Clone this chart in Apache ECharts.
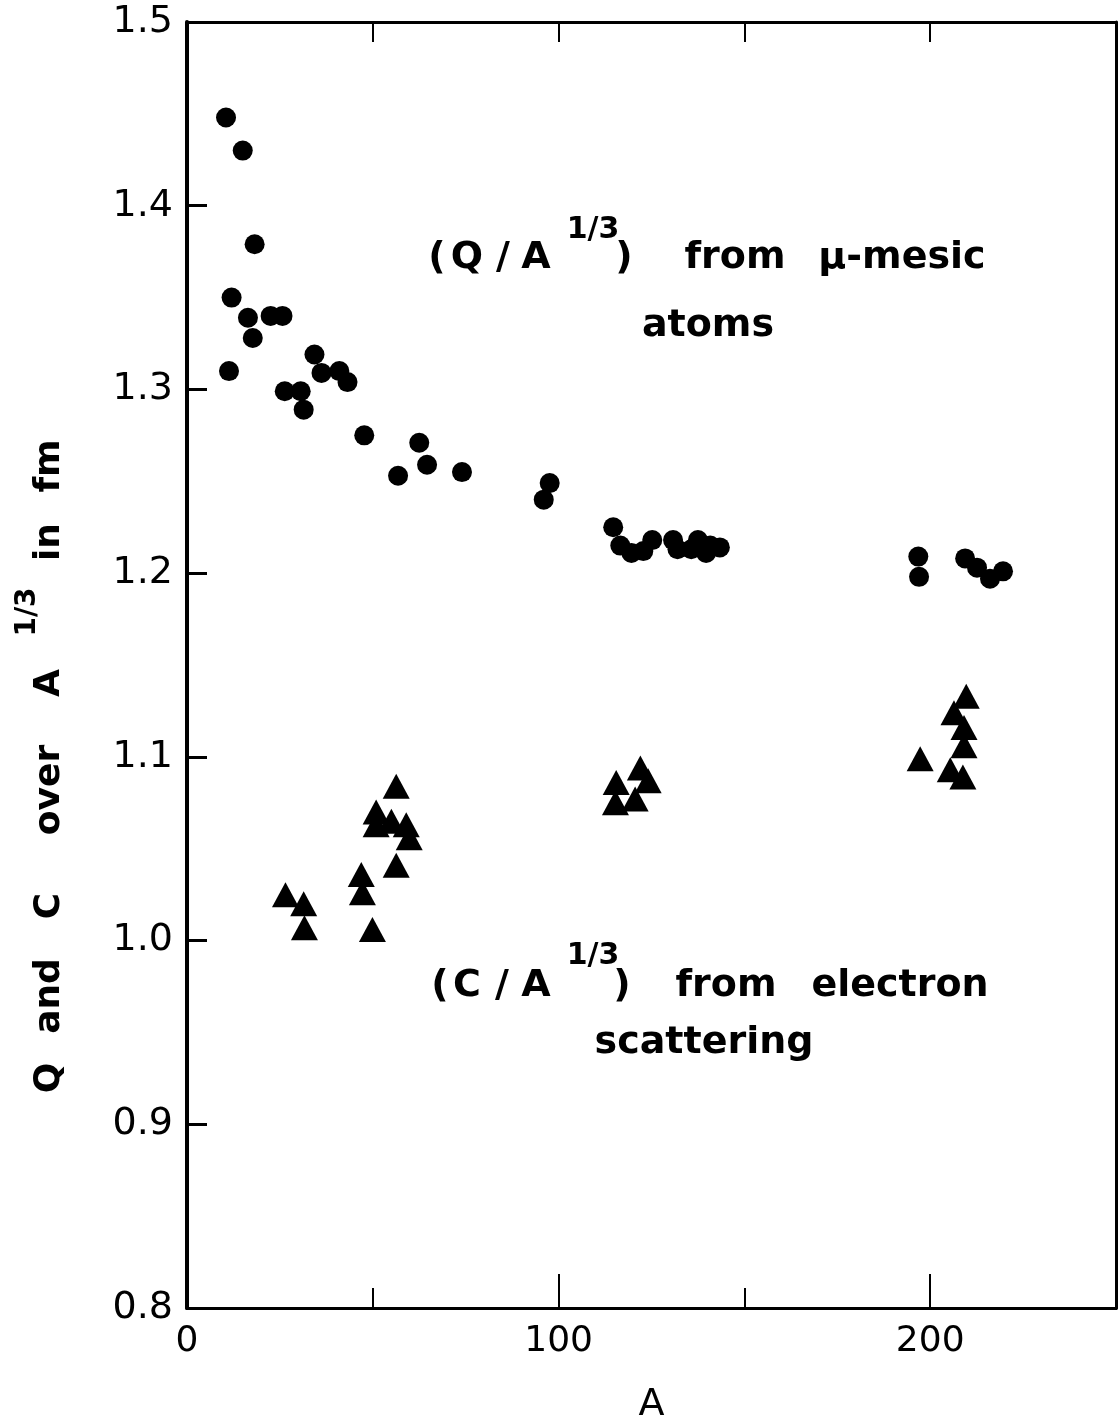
<!DOCTYPE html>
<html>
<head>
<meta charset="utf-8">
<script src="https://cdn.jsdelivr.net/npm/echarts@6/dist/echarts.min.js"></script>
<style>
  html, body { margin: 0; padding: 0; background: #fff; }
  #chart { width: 1118px; height: 1424px; }
</style>
</head>
<body>
<div id="chart"></div>
<script>
// Q / A^(1/3) from mu-mesic atoms
const muA = [10.5, 15, 18.2, 12, 16.4, 17.7, 11.3, 22.5, 25.7, 26.3, 30.6, 31.4, 34.3, 36.2, 41, 43.2,
  47.7, 56.8, 62.5, 64.6, 74, 96, 97.6, 114.7, 116.6, 119.6, 122.8, 125.2, 130.8, 132, 135.7, 137.5,
  139.7, 140.8, 143.4, 196.8, 197, 209.4, 212.6, 216.1, 219.6]
const muR = [1.448, 1.430, 1.379, 1.350, 1.339, 1.328, 1.310, 1.340, 1.340, 1.299, 1.299, 1.289, 1.319, 1.309, 1.310, 1.304,
  1.275, 1.253, 1.271, 1.259, 1.255, 1.240, 1.249, 1.225, 1.215, 1.211, 1.212, 1.218, 1.218, 1.213, 1.213, 1.218,
  1.211, 1.215, 1.214, 1.209, 1.198, 1.208, 1.203, 1.197, 1.201]

// C / A^(1/3) from electron scattering
const elA = [26.5, 31.4, 31.6, 46.9, 47.2, 49.9, 50.9, 50.9, 55, 56.3, 59, 59.8, 56.3,
  115.5, 115.3, 122, 124.1, 120.6, 209.7, 206.4, 209.1, 209.1, 197.3, 205.4, 208.8]
const elR = [1.025, 1.020, 1.007, 1.036, 1.026, 1.006, 1.070, 1.063, 1.065, 1.084, 1.063, 1.056, 1.041,
  1.086, 1.075, 1.094, 1.087, 1.077, 1.133, 1.124, 1.116, 1.106, 1.099, 1.093, 1.089]

const xLabels = [0, 100, 200]

const chart = echarts.init(document.getElementById('chart'))

const FONT = 'DejaVu Sans'

function pairs(xs, ys) {
  return xs.map((x, i) => [x, ys[i]])
}

// a piece of annotation text, centred on (x, y)
function txt(text, x, y, size, rot) {
  return {
    type: 'text',
    x: x,
    y: y,
    rotation: rot || 0,
    style: {
      text: text,
      fill: '#000',
      font: 'bold ' + (size || 38) + 'px "' + FONT + '"',
      align: 'center',
      verticalAlign: 'middle'
    }
  }
}

const axisLineStyle = { color: '#000', width: 3 }
const UP = Math.PI / 2
const gridBox = { left: 187, right: 2, top: 22, bottom: 116, containLabel: false, outerBoundsMode: 'none' }

const option = {
  backgroundColor: '#fff',
  animation: false,
  // second grid on top of the first only carries the long ticks at 100 / 200
  grid: [Object.assign({}, gridBox), Object.assign({}, gridBox)],
  xAxis: [{
    type: 'value',
    gridIndex: 0,
    position: 'bottom',
    min: 0,
    max: 250,
    interval: 50,
    name: 'A',
    nameLocation: 'middle',
    nameGap: 78,
    nameTextStyle: { color: '#000', fontSize: 38, fontFamily: FONT },
    axisLine: { show: true, onZero: false, lineStyle: axisLineStyle },
    axisTick: { show: true, inside: true, length: 20, lineStyle: { color: '#000', width: 2 } },
    axisLabel: {
      color: '#000',
      fontSize: 36,
      fontFamily: FONT,
      margin: 16,
      showMaxLabel: false,
      formatter: function (v) { return xLabels.indexOf(v) >= 0 ? String(v) : '' }
    },
    splitLine: { show: false }
  }, {
    type: 'value',
    gridIndex: 0,
    position: 'top',
    min: 0,
    max: 250,
    interval: 50,
    axisLine: { show: true, onZero: false, lineStyle: axisLineStyle },
    axisTick: { show: true, inside: true, length: 20, lineStyle: { color: '#000', width: 2 } },
    axisLabel: { show: false },
    splitLine: { show: false }
  }, {
    type: 'value',
    gridIndex: 1,
    position: 'bottom',
    min: 0,
    max: 250,
    interval: 100,
    axisLine: { show: true, onZero: false, lineStyle: axisLineStyle },
    axisTick: { show: true, inside: true, length: 34, lineStyle: { color: '#000', width: 2 } },
    axisLabel: { show: false },
    splitLine: { show: false }
  }],
  yAxis: [{
    type: 'value',
    gridIndex: 0,
    position: 'left',
    min: 0.8,
    max: 1.5,
    interval: 0.1,
    axisLine: { show: true, onZero: false, lineStyle: { color: '#000', width: 4 } },
    axisTick: { show: true, inside: true, length: 20, lineStyle: { color: '#000', width: 3 } },
    axisLabel: {
      color: '#000',
      fontSize: 38,
      fontFamily: FONT,
      margin: 14,
      formatter: function (v) { return v.toFixed(1) }
    },
    splitLine: { show: false }
  }, {
    type: 'value',
    gridIndex: 0,
    position: 'right',
    min: 0.8,
    max: 1.5,
    interval: 0.1,
    axisLine: { show: true, onZero: false, lineStyle: axisLineStyle },
    axisTick: { show: false },
    axisLabel: { show: false },
    splitLine: { show: false }
  }, {
    type: 'value',
    gridIndex: 1,
    min: 0.8,
    max: 1.5,
    axisLine: { show: false, onZero: false },
    axisTick: { show: false },
    axisLabel: { show: false },
    splitLine: { show: false }
  }],
  series: [{
    name: 'Q/A^1/3',
    type: 'scatter',
    xAxisIndex: 0,
    yAxisIndex: 0,
    symbol: 'circle',
    symbolSize: 20,
    itemStyle: { color: '#000', opacity: 1 },
    data: pairs(muA, muR)
  }, {
    name: 'C/A^1/3',
    type: 'scatter',
    xAxisIndex: 0,
    yAxisIndex: 0,
    symbol: 'triangle',
    symbolSize: [27, 25],
    itemStyle: { color: '#000', opacity: 1 },
    data: pairs(elA, elR)
  }, {
    // empty series so the tick-only grid is laid out
    name: 'ticks',
    type: 'scatter',
    xAxisIndex: 2,
    yAxisIndex: 2,
    silent: true,
    data: []
  }],
  graphic: [
    // y axis title, word by word
    txt('Q', 50, 1078, 36, UP), txt('and', 50, 996, 36, UP), txt('C', 50, 906, 36, UP),
    txt('over', 50, 790, 36, UP), txt('A', 50, 683, 36, UP), txt('1/3', 28, 612, 28, UP),
    txt('in', 50, 542, 36, UP), txt('fm', 50, 466, 36, UP),
    // upper annotation
    txt('(', 437, 258), txt('Q', 467, 258), txt('/', 503, 258), txt('A', 536, 258),
    txt('1/3', 593, 230, 30), txt(')', 624, 258),
    txt('from', 735, 258), txt('\u03bc-mesic', 902, 258),
    txt('atoms', 708, 326),
    // lower annotation
    txt('(', 440, 986), txt('C', 467, 986), txt('/', 502, 986), txt('A', 536, 986),
    txt('1/3', 593, 956, 30), txt(')', 622, 986),
    txt('from', 726, 986), txt('electron', 900, 986),
    txt('scattering', 704, 1043)
  ]
}

chart.setOption(option)
</script>
</body>
</html>
